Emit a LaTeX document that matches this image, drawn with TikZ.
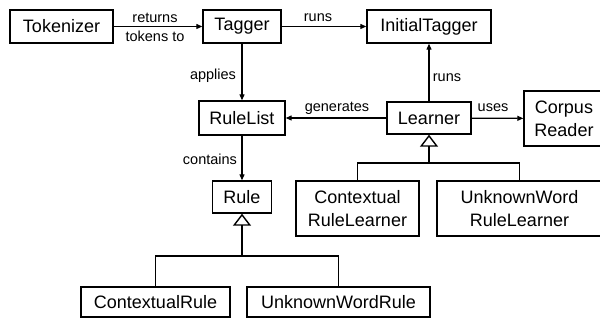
\documentclass[tikz,border=0pt]{standalone}
\usepackage{fontspec}
\setmainfont{Liberation Sans}
\usetikzlibrary{arrows.meta}

\tikzset{
  cls/.style={draw, line width=1.4pt, inner sep=0pt, align=center,
    font=\fontsize{18}{23}\selectfont},
  lbl/.style={inner sep=0pt, font=\fontsize{14.5}{16}\selectfont},
  assoc/.style={line width=1.2pt, -{Triangle[length=6pt,width=5pt]}},
  inherit/.style={line width=1.4pt, -{Triangle[open,length=12pt,width=18pt,line width=1.4pt]}},
  bar/.style={line width=1.4pt}
}

\begin{document}
\begin{tikzpicture}[x=1pt, y=-1pt]
  \clip (0,0) rectangle (600,320);
  \fill[white] (0,0) rectangle (600,320);

  % classes
  \node[cls, minimum width=103pt, minimum height=33pt] (tok)   at (61.5,26.5) {Tokenizer};
  \node[cls, minimum width=78pt,  minimum height=33pt] (tag)   at (242,26.5)  {Tagger};
  \node[cls, minimum width=124pt, minimum height=33pt] (init)  at (429,26.5)  {InitialTagger};
  \node[cls, minimum width=86pt,  minimum height=34pt] (rl)    at (242,118)   {RuleList};
  \node[cls, minimum width=84pt,  minimum height=32pt] (learn) at (429,118)   {Learner};
  \node[cls, minimum width=80pt,  minimum height=55pt] (corp)  at (564,118.5) {Corpus\\Reader};
  \node[cls, minimum width=59pt,  minimum height=32pt] (rule)  at (242,197)   {Rule};
  \node[cls, minimum width=123pt, minimum height=55pt] (crl)   at (357.5,208.5) {Contextual\\RuleLearner};
  \node[cls, minimum width=165pt, minimum height=55pt] (uwrl)  at (519.5,208.5) {UnknownWord\\RuleLearner};
  \node[cls, minimum width=149pt, minimum height=30pt] (cr)    at (155.5,302) {ContextualRule};
  \node[cls, minimum width=183pt, minimum height=30pt] (uwr)   at (338.5,302) {UnknownWordRule};

  % associations
  \draw[assoc] (tok) -- (tag);
  \draw[assoc] (tag) -- (init);
  \draw[assoc] (tag) -- (rl);
  \draw[assoc] (learn) -- (init);
  \draw[assoc] (learn) -- (rl);
  \draw[assoc] (learn) -- (corp);
  \draw[assoc] (rl) -- (rule);

  % association labels
  \node[lbl] (l1) at (155,18)  {returns};
  \node[lbl] (l2) at (155,36)  {tokens to};
  \node[lbl] (l3) at (318,18)  {runs};
  \node[lbl] (l4) at (213,76)  {applies};
  \node[lbl] (l5) at (447,78)  {runs};
  \node[lbl] (l6) at (337,108) {generates};
  \node[lbl] (l7) at (493,108) {uses};
  \node[lbl] (l8) at (210,159) {contains};

  % generalisation of Learner
  \coordinate (lbar) at (429,163);
  \draw[bar] (crl.north) |- (lbar);
  \draw[bar] (uwrl.north) |- (lbar);
  \draw[inherit] (lbar) -- (learn.south);

  % generalisation of Rule
  \coordinate (rbar) at (242,256);
  \draw[bar] (cr.north) |- (rbar);
  \draw[bar] (uwr.north) |- (rbar);
  \draw[inherit] (rbar) -- (rule.south);
\end{tikzpicture}
\end{document}
